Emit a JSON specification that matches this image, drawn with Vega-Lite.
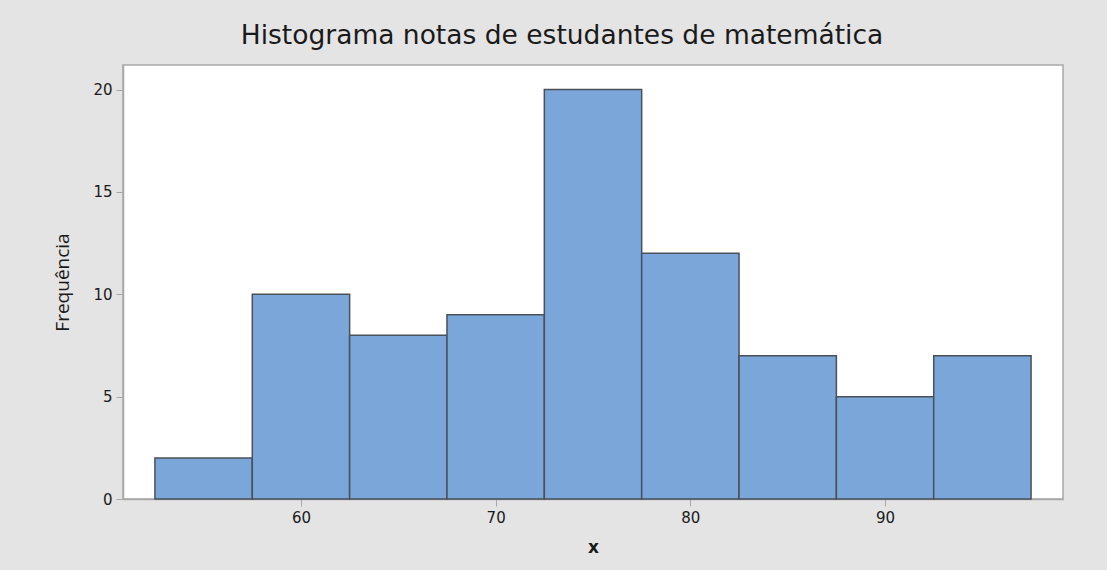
{
  "$schema": "https://vega.github.io/schema/vega-lite/v6.json",
  "autosize": {"type": "none"},
  "width": 940,
  "height": 434,
  "padding": {"left": 123, "top": 65, "right": 44, "bottom": 71},
  "background": "#e4e4e4",
  "title": {
    "text": "Histograma notas de estudantes de matemática",
    "font": "DejaVu Sans",
    "fontSize": 26.5,
    "fontWeight": "normal",
    "color": "#1a1a1a",
    "anchor": "middle",
    "dx": -31,
    "baseline": "alphabetic",
    "offset": -5
  },
  "config": {
    "view": {"stroke": "#a8a8a8", "strokeWidth": 1.5, "fill": "white"},
    "axis": {
      "grid": false,
      "domainColor": "#a8a8a8",
      "domainWidth": 1.5,
      "tickColor": "#a8a8a8",
      "tickSize": 7,
      "labelFont": "DejaVu Sans",
      "labelFontSize": 15,
      "labelFontWeight": 500,
      "labelColor": "#1a1a1a",
      "titleFont": "Open Sans",
      "titleColor": "#1a1a1a"
    }
  },
  "data": {
    "values": [
      {"bin_start": 52.5, "bin_end": 57.5, "count": 2},
      {"bin_start": 57.5, "bin_end": 62.5, "count": 10},
      {"bin_start": 62.5, "bin_end": 67.5, "count": 8},
      {"bin_start": 67.5, "bin_end": 72.5, "count": 9},
      {"bin_start": 72.5, "bin_end": 77.5, "count": 20},
      {"bin_start": 77.5, "bin_end": 82.5, "count": 12},
      {"bin_start": 82.5, "bin_end": 87.5, "count": 7},
      {"bin_start": 87.5, "bin_end": 92.5, "count": 5},
      {"bin_start": 92.5, "bin_end": 97.5, "count": 7}
    ]
  },
  "mark": {"type": "bar", "fill": "#7ba6d9", "stroke": "#4a505a", "strokeWidth": 1.5},
  "encoding": {
    "x": {
      "field": "bin_start",
      "type": "quantitative",
      "scale": {"domain": [50.86, 99.14], "nice": false, "zero": false},
      "axis": {
        "values": [60, 70, 80, 90],
        "title": "x",
        "titleFont": "DejaVu Sans",
        "titleFontSize": 17,
        "titleFontWeight": "bold",
        "titlePadding": 14,
        "labelPadding": 4
      }
    },
    "x2": {"field": "bin_end"},
    "y": {
      "field": "count",
      "type": "quantitative",
      "scale": {"domain": [0, 21.2], "nice": false},
      "axis": {
        "values": [0, 5, 10, 15, 20],
        "title": "Frequência",
        "titleFontSize": 19,
        "titleFontWeight": "normal",
        "titlePadding": 20,
        "labelPadding": 4
      }
    },
    "y2": {"datum": 0}
  }
}
